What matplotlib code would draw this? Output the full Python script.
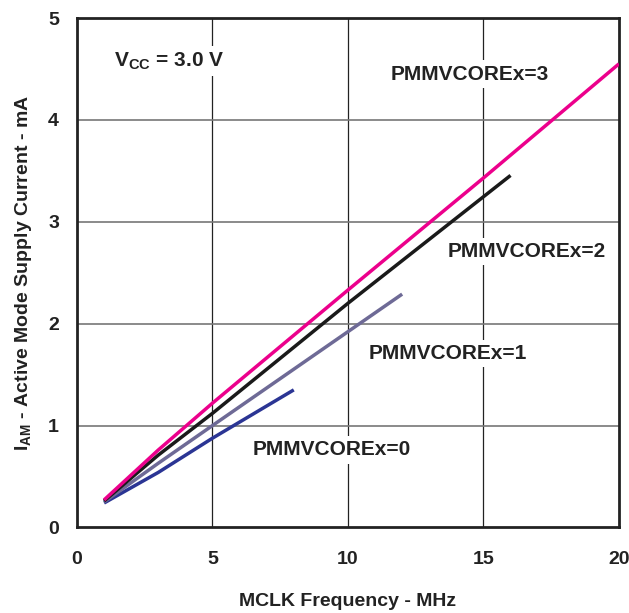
import numpy as np
import matplotlib.pyplot as plt

plt.rcParams['font.family'] = ['Liberation Sans', 'DejaVu Sans']
plt.rcParams['font.weight'] = 'bold'
plt.rcParams['mathtext.fontset'] = 'custom'
plt.rcParams['mathtext.rm'] = 'Liberation Sans:bold'
plt.rcParams['mathtext.bf'] = 'Liberation Sans:bold'

# Active mode supply current vs MCLK, one curve per core voltage level
freq_0 = [1, 3, 5, 8]
curr_0 = [0.24, 0.54, 0.876, 1.35]

freq_1 = [1, 3, 5, 12]
curr_1 = [0.25, 0.63, 1.0, 2.29]

freq_2 = [1, 3, 5, 10, 16]
curr_2 = [0.26, 0.71, 1.12, 2.2, 3.455]

freq_3 = [1, 3, 5, 10, 15, 20]
curr_3 = [0.27, 0.76, 1.22, 2.33, 3.43, 4.55]

labels = ['PMMVCOREx=0', 'PMMVCOREx=1', 'PMMVCOREx=2', 'PMMVCOREx=3']
colors = ['#2B3594', '#6E6A96', '#1A1A1A', '#EC008C']
label_pos = [(9.4, 0.76), (13.7, 1.71), (16.6, 2.71), (14.5, 4.45)]

fig = plt.figure(figsize=(6.29, 6.13), dpi=100)
ax = fig.add_axes([0.1224, 0.1396, 0.8616, 0.831])

for f, c, col in zip([freq_0, freq_1, freq_2, freq_3],
                     [curr_0, curr_1, curr_2, curr_3], colors):
    ax.plot(f, c, color=col, lw=2.5, solid_capstyle='butt', zorder=3)

# grid: dark verticals, grey horizontals
for xv in [5, 10, 15]:
    ax.axvline(xv, color='#222222', lw=0.9, zorder=1)
for yv in [1, 2, 3, 4]:
    ax.axhline(yv, color='#777777', lw=1.2, zorder=1)

box = dict(facecolor='white', edgecolor='none', pad=3)
for lab, (x, y) in zip(labels, label_pos):
    ax.text(x, y, lab, ha='center', va='center', fontsize=15,
            fontweight='bold', color='#222222', bbox=box, zorder=2)
ax.text(3.4, 4.58, r'V$_{\mathrm{CC}}$ = 3.0 V', ha='center', va='center',
        fontsize=15, fontweight='bold', color='#222222', bbox=box, zorder=2)

ax.set_xlim(0, 20)
ax.set_ylim(0, 5)
ax.set_xticks([0, 5, 10, 15, 20])
ax.set_yticks([0, 1, 2, 3, 4, 5])
ax.tick_params(axis='both', length=0, labelsize=14, colors='#222222')
ax.tick_params(axis='x', pad=17)
ax.tick_params(axis='y', pad=13)
for s in ax.spines.values():
    s.set_linewidth(2)
    s.set_color('#222222')

ax.set_xlabel('MCLK Frequency - MHz', fontsize=14, fontweight='bold',
              color='#222222', labelpad=18)
ax.set_ylabel(r'I$_{\mathrm{AM}}$ - Active Mode Supply Current - mA',
              fontsize=14, fontweight='bold', color='#222222', labelpad=10)

fig.savefig('out.png', dpi=100)
